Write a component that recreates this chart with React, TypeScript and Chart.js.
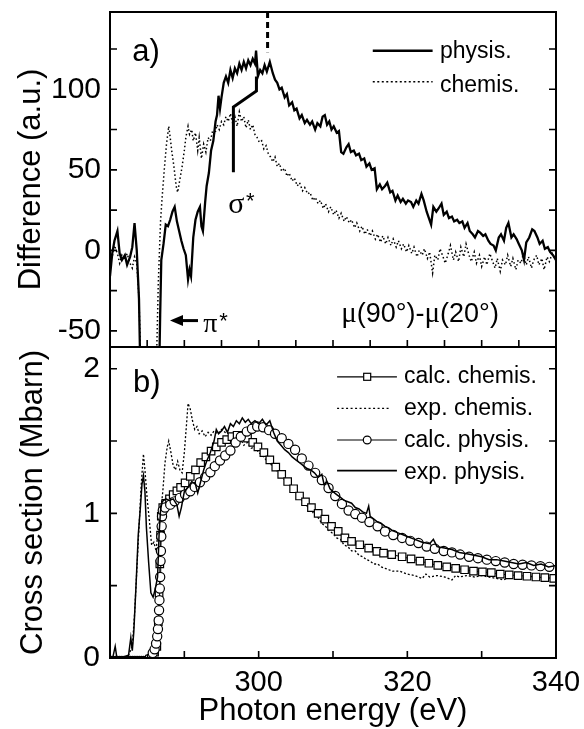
import React, { useEffect, useRef } from "react";
import { Chart, registerables } from "chart.js";

Chart.register(...registerables);

const SANS = "'Liberation Sans', Arial, Helvetica, sans-serif";
const SERIF = "'Liberation Serif', 'Times New Roman', serif";

// ---------- panel a) : difference spectra ----------
const aPhysE = [280.0,280.3,280.6,281.0,281.3,281.6,282.0,282.3,282.7,283.0,283.3,283.6,283.9,284.1,286.6,286.75,286.9,287.2,287.5,287.8,288.1,288.4,288.7,289.0,289.3,289.6,289.9,290.2,290.5,290.7,290.9,291.2,291.5,291.8,292.1,292.3,292.5,292.8,293.0,293.3,293.6,293.9,294.2,294.4,294.6,294.8,295.0,295.3,295.6,295.9,296.2,296.5,296.8,297.1,297.4,297.7,298.0,298.3,298.6,298.9,299.2,299.5,299.65,299.9,300.2,300.5,300.8,301.1,301.5,301.9,302.2,302.5,302.8,303.1,303.5,303.8,304.1,304.5,304.8,305.1,305.5,305.8,306.2,306.5,306.9,307.2,307.6,307.9,308.3,308.6,308.9,309.2,309.5,309.8,310.1,310.5,310.8,311.1,311.4,311.8,312.1,312.4,312.8,313.1,313.5,313.8,314.2,314.5,314.9,315.2,315.6,315.9,316.3,316.6,317.0,317.3,317.7,318.0,318.4,318.7,319.1,319.4,319.8,320.1,320.5,320.8,321.2,321.5,321.9,322.2,322.6,322.9,323.2,323.5,323.9,324.2,324.6,324.9,325.3,325.6,326.0,326.3,326.7,327.0,327.4,327.7,328.1,328.4,328.8,329.1,329.5,329.8,330.2,330.5,330.9,331.2,331.6,331.9,332.3,332.6,333.0,333.3,333.6,334.0,334.3,334.7,335.0,335.4,335.7,336.0,336.4,336.8,337.1,337.5,337.8,338.2,338.5,338.9,339.2,339.6,340.0];
const aPhysV = [-16,-2,6,12,-2,-6,-3,-9,-4,2,17,0,-30,-80,-80,-40,-6,4,16,15,19,24,27,18,12,6,1,-3,-18,-12,-16,8,19,24,27,15,12,30,40,48,62,68,80,84,96,88,95,104,108,104,112,107,113,110,116,112,117,113,118,115,119,116,124,108,112,110,115,111,117,110,106,104,100,101,95,97,90,92,87,88,82,84,79,81,78,80,75,79,77,83,84,78,80,75,77,73,74,61,60,64,66,61,62,59,60,56,57,52,54,50,51,38,41,38,40,42,36,37,31,34,30,32,29,31,30,27,31,29,35,31,24,20,16,27,24,26,29,22,24,20,21,18,19,17,18,14,17,12,10,8,12,11,9,10,6,4,3,0,8,10,6,14,17,8,10,7,4,0,-6,5,8,13,12,8,4,6,1,2,-1,-3,-6];

const aChemE = [280.0,280.3,280.6,281.0,281.3,281.6,282.0,282.3,282.7,283.0,283.3,283.6,283.9,284.2,286.2,286.5,286.8,287.0,287.3,287.6,287.9,288.1,288.3,288.6,288.9,289.1,289.4,289.7,290.0,290.2,290.5,290.7,291.0,291.2,291.5,291.8,292.0,292.3,292.6,292.9,293.2,293.5,293.8,294.1,294.4,294.7,295.0,295.3,295.6,295.9,296.2,296.5,296.8,297.1,297.4,297.7,298.0,298.3,298.6,298.9,299.2,299.5,299.8,300.1,300.4,300.7,301.0,301.3,301.6,301.9,302.2,302.5,302.8,303.1,303.5,303.8,304.1,304.5,304.8,305.2,305.5,305.9,306.2,306.6,306.9,307.3,307.6,308.0,308.3,308.7,309.0,309.4,309.7,310.1,310.4,310.8,311.1,311.5,311.8,312.2,312.5,312.9,313.2,313.6,313.9,314.3,314.6,315.0,315.3,315.7,316.0,316.4,316.7,317.1,317.4,317.8,318.1,318.5,318.8,319.2,319.5,319.9,320.2,320.6,320.9,321.3,321.6,322.0,322.3,322.7,323.0,323.4,323.7,324.1,324.4,324.8,325.1,325.5,325.8,326.2,326.5,326.9,327.2,327.6,327.9,328.3,328.6,329.0,329.3,329.7,330.0,330.4,330.7,331.1,331.4,331.8,332.1,332.5,332.8,333.2,333.5,333.9,334.2,334.6,334.9,335.3,335.6,336.0,336.3,336.7,337.0,337.4,337.7,338.1,338.4,338.8,339.1,339.5,339.8,340.0];
const aChemV = [0,-4,3,-2,-8,-3,-6,-2,-8,-11,-4,-8,-30,-80,-80,-20,18,32,50,66,77,70,62,52,40,36,44,52,62,70,77,72,75,68,73,62,70,57,66,61,70,68,74,72,78,75,80,78,83,80,85,79,83,77,86,80,83,76,81,75,78,72,70,67,68,63,65,60,58,55,58,52,54,49,51,46,48,43,45,40,42,37,39,35,36,31,33,29,31,26,29,24,27,22,25,20,23,18,21,17,19,14,17,12,15,10,13,9,12,7,10,5,9,4,8,3,7,2,6,1,4,-1,3,-2,2,-4,0,-3,1,-5,-1,-14,-3,-6,1,-4,-8,-2,3,-6,-1,-7,2,-4,4,-3,-7,-1,-8,-3,-10,-4,-9,-2,-6,-11,-5,-13,-6,-9,-3,-10,-5,-12,-6,-8,-2,-9,-4,-11,-6,-3,-9,-5,-12,-4,-7,-2,-5,-3];

// ---------- panel b) : cross sections ----------
const bExpPhysE = [280.0,280.4,280.7,280.9,281.5,282.0,282.5,282.8,283.0,283.2,283.5,283.8,284.1,284.3,284.5,284.7,284.9,285.2,285.5,285.8,286.1,286.4,286.6,286.8,287.0,287.5,288.0,288.5,289.0,289.3,289.6,290.0,290.5,291.0,291.5,291.8,292.2,292.6,293.0,293.5,294.0,294.3,294.6,295.0,295.4,295.8,296.2,296.6,297.0,297.4,297.8,298.2,298.6,299.0,299.5,300.0,300.5,301.0,301.5,302.0,302.5,303.0,303.5,304.0,304.5,305.0,305.5,306.0,306.5,307.0,307.5,308.0,308.5,308.8,309.2,309.6,310.0,310.5,311.0,311.5,312.0,312.5,313.0,313.5,314.0,314.5,314.8,315.0,315.5,316.0,316.5,317.0,317.5,318.0,318.5,319.0,319.5,320.0,321.0,322.0,323.0,323.5,324.0,325.0,326.0,327.0,328.0,329.0,330.0,331.0,332.0,333.0,334.0,335.0,336.0,337.0,338.0,339.0,340.0];
const bExpPhysV = [0,0.01,0.08,0.01,0.0,0.01,0.02,0.14,0.05,0.18,0.5,0.85,1.05,1.2,1.26,1.15,0.9,0.66,0.45,0.42,0.48,0.56,0.85,1.02,1.08,1.1,1.09,1.1,1.06,0.98,1.04,1.15,1.18,1.22,1.2,1.14,1.22,1.3,1.36,1.42,1.5,1.58,1.55,1.57,1.6,1.56,1.62,1.6,1.64,1.62,1.66,1.63,1.65,1.62,1.64,1.62,1.65,1.61,1.64,1.56,1.5,1.47,1.44,1.42,1.39,1.37,1.35,1.33,1.31,1.3,1.28,1.25,1.27,1.2,1.22,1.17,1.15,1.13,1.11,1.09,1.08,1.07,1.04,1.03,1.01,1.0,1.05,0.98,0.96,0.94,0.93,0.91,0.9,0.88,0.87,0.86,0.85,0.84,0.82,0.8,0.79,0.82,0.77,0.76,0.75,0.73,0.72,0.71,0.7,0.68,0.68,0.67,0.66,0.65,0.66,0.64,0.65,0.63,0.64];

const bExpChemE = [280.0,280.5,281.0,281.5,282.0,282.5,283.0,283.3,283.6,283.9,284.2,284.5,284.7,285.0,285.3,285.6,285.9,286.2,286.5,286.8,287.1,287.4,287.7,287.9,288.2,288.5,288.8,289.1,289.4,289.7,290.0,290.3,290.5,290.8,291.1,291.4,291.7,292.0,292.4,292.8,293.2,293.6,294.0,294.5,295.0,295.5,296.0,296.5,297.0,297.5,298.0,298.5,299.0,299.5,300.0,300.5,301.0,301.5,302.0,302.5,303.0,303.5,304.0,304.5,305.0,305.5,306.0,306.5,307.0,307.5,308.0,308.5,309.0,309.5,310.0,310.5,311.0,311.5,312.0,312.5,313.0,313.5,314.0,314.5,315.0,315.5,316.0,316.5,317.0,317.5,318.0,319.0,320.0,321.0,322.0,322.5,323.0,324.0,325.0,326.0,326.5,327.0,328.0,329.0,330.0,331.0,332.0,333.0,334.0,335.0,336.0,337.0,338.0,339.0,340.0];
const bExpChemV = [0,0.01,0,0.01,0.0,0.02,0.08,0.3,0.6,0.9,1.2,1.41,1.3,1.1,0.95,0.78,0.8,0.74,0.9,1.0,1.15,1.35,1.46,1.5,1.42,1.33,1.3,1.36,1.3,1.28,1.42,1.62,1.76,1.72,1.64,1.58,1.6,1.55,1.57,1.53,1.56,1.54,1.57,1.55,1.58,1.56,1.55,1.53,1.5,1.52,1.47,1.49,1.45,1.46,1.42,1.4,1.37,1.34,1.33,1.29,1.27,1.23,1.21,1.17,1.15,1.11,1.08,1.05,1.03,0.99,0.97,0.93,0.91,0.88,0.86,0.83,0.82,0.78,0.77,0.74,0.74,0.71,0.7,0.68,0.67,0.65,0.65,0.63,0.62,0.61,0.6,0.6,0.58,0.57,0.55,0.58,0.56,0.57,0.56,0.54,0.57,0.56,0.57,0.56,0.57,0.56,0.55,0.54,0.57,0.56,0.55,0.57,0.56,0.55,0.57];

const bCalcChemE = [280.0,280.25,280.5,280.75,281.0,281.25,281.5,281.75,282.0,282.25,282.5,282.75,283.0,283.25,283.5,283.75,284.0,284.25,284.5,284.75,285.0,285.25,285.5,285.75,286.0,286.3,286.5,286.6,286.7,286.8,286.9,287.1,287.5,288.0,288.5,289.0,289.5,290.1,290.8,291.5,292.2,292.9,293.6,294.3,295.0,295.7,296.4,297.1,297.8,298.5,299.2,299.9,300.7,301.5,302.3,303.1,303.9,304.7,305.5,306.3,307.1,308.0,308.9,309.8,310.7,311.6,312.5,313.6,314.8,315.9,316.8,317.9,319.3,320.5,321.7,322.9,324.1,325.3,326.5,327.7,328.9,330.1,331.3,332.5,333.7,334.9,336.1,337.3,338.5,339.7];
const bCalcChemV = [0,0,0,0,0,0,0,0,0,0,0,0,0,0,0,0,0,0,0,0,0.005,0.01,0.015,0.02,0.04,0.08,0.25,0.45,0.65,0.85,0.98,1.04,1.07,1.1,1.13,1.155,1.18,1.21,1.256,1.3,1.35,1.39,1.43,1.46,1.49,1.51,1.53,1.54,1.54,1.52,1.49,1.46,1.42,1.37,1.32,1.27,1.22,1.17,1.12,1.08,1.04,1.0,0.96,0.91,0.875,0.83,0.806,0.783,0.76,0.737,0.725,0.714,0.7,0.685,0.67,0.655,0.64,0.63,0.62,0.61,0.6,0.595,0.59,0.58,0.575,0.57,0.565,0.56,0.555,0.55];

const bCalcPhysE = [280.0,280.25,280.5,280.75,281.0,281.25,281.5,281.75,282.0,282.25,282.5,282.75,283.0,283.25,283.5,283.75,284.0,284.25,284.5,284.75,285.0,285.25,285.5,285.75,286.0,286.2,286.35,286.45,286.55,286.6,286.65,286.7,286.75,286.8,286.85,286.9,286.95,287.0,287.1,287.4,288.1,288.7,289.4,290.1,290.8,291.4,292.1,292.8,293.5,294.1,294.8,295.5,296.2,296.9,297.6,298.4,299.1,299.8,300.6,301.4,302.2,303.1,304.0,304.9,305.8,306.7,307.6,308.5,309.4,310.3,311.2,312.1,313.0,313.9,314.9,316.0,317.0,318.1,319.3,320.4,321.5,322.6,323.7,324.9,326.0,327.1,328.3,329.5,330.7,331.9,333.1,334.3,335.5,336.7,337.9,339.1];
const bCalcPhysV = [0,0,0,0,0,0,0,0,0,0,0,0,0,0,0,0,0,0,0,0,0.01,0.015,0.02,0.035,0.06,0.1,0.15,0.2,0.26,0.33,0.4,0.48,0.56,0.67,0.74,0.84,0.91,0.98,1.02,1.04,1.06,1.083,1.107,1.13,1.152,1.183,1.215,1.25,1.284,1.326,1.365,1.4,1.434,1.49,1.53,1.565,1.585,1.6,1.595,1.575,1.55,1.52,1.48,1.44,1.38,1.33,1.28,1.23,1.175,1.12,1.065,1.02,0.995,0.97,0.94,0.91,0.875,0.85,0.83,0.81,0.795,0.77,0.755,0.74,0.73,0.715,0.7,0.69,0.68,0.67,0.66,0.65,0.645,0.64,0.635,0.63];

// tick label lists
const aYLabelStep = 50;
const bXLabels = [300, 320, 340];
const bYLabels = [0, 1, 2];

const pts = (xs: number[], ys: number[]) => xs.map((x, i) => ({ x, y: ys[i] }));

function frameAndTicks(chart: any) {
  const { ctx, chartArea: a } = chart;
  const xs = chart.scales.x;
  const ys = chart.scales.y;
  const L = 7;
  ctx.save();
  ctx.strokeStyle = "#000";
  ctx.lineWidth = 1.6;
  ctx.setLineDash([]);
  ctx.beginPath();
  xs.ticks.forEach((t: any) => {
    if (t.value > xs.min && t.value < xs.max) {
      const p = xs.getPixelForValue(t.value);
      ctx.moveTo(p, a.bottom);
      ctx.lineTo(p, a.bottom - L);
    }
  });
  ys.ticks.forEach((t: any) => {
    if (t.value > ys.min && t.value < ys.max) {
      const p = ys.getPixelForValue(t.value);
      ctx.moveTo(a.left, p);
      ctx.lineTo(a.left + L, p);
      ctx.moveTo(a.right, p);
      ctx.lineTo(a.right - L, p);
    }
  });
  ctx.stroke();
  ctx.lineWidth = 2;
  ctx.strokeRect(a.left, a.top, a.right - a.left, a.bottom - a.top);
  ctx.restore();
}

function text(ctx: any, s: string, x: number, y: number, font: string) {
  ctx.font = font;
  ctx.fillStyle = "#000";
  ctx.textAlign = "left";
  ctx.textBaseline = "alphabetic";
  ctx.fillText(s, x, y);
  return ctx.measureText(s).width;
}

const decorTop = {
  id: "decorTop",
  afterDraw(chart: any) {
    frameAndTicks(chart);
    const { ctx } = chart;
    const xs = chart.scales.x;
    const ys = chart.scales.y;
    const X = (v: number) => xs.getPixelForValue(v);
    const Y = (v: number) => ys.getPixelForValue(v);
    ctx.save();
    text(ctx, "a)", X(283.0), Y(117.6), `31px ${SANS}`);
    ctx.strokeStyle = "#000";
    ctx.lineWidth = 2.5;
    ctx.beginPath();
    ctx.moveTo(X(315.35), Y(124));
    ctx.lineTo(X(323.4), Y(124));
    ctx.stroke();
    text(ctx, "physis.", X(324.4), Y(119.3), `23px ${SANS}`);
    ctx.lineWidth = 1.5;
    ctx.setLineDash([2, 2.5]);
    ctx.beginPath();
    ctx.moveTo(X(315.35), Y(104.7));
    ctx.lineTo(X(323.4), Y(104.7));
    ctx.stroke();
    ctx.setLineDash([]);
    text(ctx, "chemis.", X(324.4), Y(98.5), `23px ${SANS}`);
    let x = X(311.1);
    const yb = Y(-44.4);
    x += text(ctx, "\u03bc", x, yb, `29px ${SERIF}`);
    x += text(ctx, "(90\u00b0)-", x, yb, `27px ${SANS}`);
    x += text(ctx, "\u03bc", x, yb, `29px ${SERIF}`);
    text(ctx, "(20\u00b0)", x, yb, `27px ${SANS}`);
    const ay = Y(-43.6);
    ctx.lineWidth = 3;
    ctx.beginPath();
    ctx.moveTo(X(291.84), ay);
    ctx.lineTo(X(288.07) + 8, ay);
    ctx.stroke();
    ctx.beginPath();
    ctx.moveTo(X(288.07), ay);
    ctx.lineTo(X(288.07) + 13, ay - 5.5);
    ctx.lineTo(X(288.07) + 13, ay + 5.5);
    ctx.closePath();
    ctx.fill();
    text(ctx, "\u03c0", X(292.55), Y(-50.5), `28px ${SERIF}`);
    text(ctx, "*", X(294.7), Y(-48.5), `22px ${SANS}`);
    ctx.lineWidth = 3;
    ctx.beginPath();
    ctx.moveTo(X(296.6), Y(48.5));
    ctx.lineTo(X(296.6), Y(89));
    ctx.lineTo(X(299.7), Y(99));
    ctx.lineTo(X(299.7), Y(108));
    ctx.stroke();
    text(ctx, "\u03c3", X(295.9), Y(22.9), `30px ${SERIF}`);
    text(ctx, "*", X(298.3), Y(26.3), `22px ${SANS}`);
    ctx.setLineDash([6, 4]);
    ctx.beginPath();
    ctx.moveTo(X(301.2), Y(148));
    ctx.lineTo(X(301.2), Y(123));
    ctx.stroke();
    ctx.setLineDash([]);
    ctx.restore();
  },
};

const decorBottom = {
  id: "decorBottom",
  afterDraw(chart: any) {
    frameAndTicks(chart);
    const { ctx } = chart;
    const xs = chart.scales.x;
    const ys = chart.scales.y;
    const X = (v: number) => xs.getPixelForValue(v);
    const Y = (v: number) => ys.getPixelForValue(v);
    ctx.save();
    text(ctx, "b)", X(283.1), Y(1.841), `31px ${SANS}`);
    const x0 = X(310.55), x1 = X(318.6), xm = X(314.6), xt = X(319.56);
    const font = `23px ${SANS}`;
    ctx.strokeStyle = "#000";
    let y = Y(1.944);
    ctx.lineWidth = 1.2;
    ctx.beginPath(); ctx.moveTo(x0, y); ctx.lineTo(x1, y); ctx.stroke();
    ctx.fillStyle = "#fff";
    ctx.fillRect(xm - 3.5, y - 3.5, 7, 7);
    ctx.lineWidth = 1.2;
    ctx.strokeRect(xm - 3.5, y - 3.5, 7, 7);
    text(ctx, "calc. chemis.", xt, Y(1.899), font);
    y = Y(1.726);
    ctx.lineWidth = 1.3;
    ctx.setLineDash([2, 2.5]);
    ctx.beginPath(); ctx.moveTo(x0, y); ctx.lineTo(X(317.8), y); ctx.stroke();
    ctx.setLineDash([]);
    text(ctx, "exp. chemis.", xt, Y(1.68), font);
    y = Y(1.507);
    ctx.lineWidth = 1.2;
    ctx.beginPath(); ctx.moveTo(x0, y); ctx.lineTo(x1, y); ctx.stroke();
    ctx.fillStyle = "#fff";
    ctx.beginPath(); ctx.arc(xm, y, 3.9, 0, Math.PI * 2); ctx.fill();
    ctx.stroke();
    text(ctx, "calc. physis.", xt, Y(1.461), font);
    y = Y(1.295);
    ctx.lineWidth = 1.8;
    ctx.beginPath(); ctx.moveTo(x0, y); ctx.lineTo(x1, y); ctx.stroke();
    text(ctx, "exp. physis.", xt, Y(1.237), font);
    ctx.restore();
  },
};

function topConfig(): any {
  return {
    type: "line",
    data: {
      datasets: [
        { label: "physis.", data: pts(aPhysE, aPhysV), borderColor: "#000", borderWidth: 2.3, pointRadius: 0, tension: 0 },
        { label: "chemis.", data: pts(aChemE, aChemV), borderColor: "#000", borderWidth: 1.5, borderDash: [1.5, 2.5], pointRadius: 0, tension: 0 },
      ],
    },
    options: {
      animation: false,
      responsive: false,
      devicePixelRatio: 1,
      layout: { padding: { left: 0, top: 12, right: 28, bottom: 382 } },
      plugins: { legend: { display: false }, tooltip: { enabled: false } },
      scales: {
        x: {
          type: "linear", min: 280, max: 340,
          ticks: { stepSize: 5, display: false, maxTicksLimit: 20 },
          grid: { display: false, drawTicks: false },
          border: { display: false },
          afterFit: (s: any) => { s.height = 0; s.paddingLeft = 0; s.paddingRight = 0; },
        },
        y: {
          min: -60, max: 148,
          ticks: {
            stepSize: 25, includeBounds: false, maxTicksLimit: 20, padding: 9, color: "#000",
            font: { size: 30, family: SANS },
            callback: (v: number) => (v % aYLabelStep === 0 ? String(v) : ""),
          },
          grid: { display: false, drawTicks: false },
          border: { display: false },
          title: { display: true, text: "Difference (a.u.)", color: "#000", font: { size: 31, family: SANS, lineHeight: 1 }, padding: { top: 16, bottom: 0 } },
          afterFit: (s: any) => { s.width = 110; s.paddingTop = 0; s.paddingBottom = 0; },
        },
      },
    },
    plugins: [decorTop],
  };
}

function botConfig(): any {
  return {
    type: "line",
    data: {
      datasets: [
        { label: "exp. physis.", data: pts(bExpPhysE, bExpPhysV), borderColor: "#000", borderWidth: 1.5, pointRadius: 0, tension: 0 },
        { label: "calc. physis.", data: pts(bCalcPhysE, bCalcPhysV), borderColor: "#000", borderWidth: 1, pointStyle: "circle", pointRadius: (ctx: any) => (ctx.raw && ctx.raw.y < 0.03 ? 1.7 : 4.6), pointBorderWidth: 1.2, pointBackgroundColor: "#fff", pointBorderColor: "#000", tension: 0 },
        { label: "calc. chemis.", data: pts(bCalcChemE, bCalcChemV), borderColor: "#000", borderWidth: 1, pointStyle: "rect", pointRadius: (ctx: any) => (ctx.raw && ctx.raw.y < 0.03 ? 1.9 : 5.3), pointBorderWidth: 1.2, pointBackgroundColor: "#fff", pointBorderColor: "#000", tension: 0 },
        { label: "exp. chemis.", data: pts(bExpChemE, bExpChemV), borderColor: "#000", borderWidth: 1.3, borderDash: [2, 2], pointRadius: 0, tension: 0 },
      ],
    },
    options: {
      animation: false,
      responsive: false,
      devicePixelRatio: 1,
      layout: { padding: { left: 0, top: 347, right: 28, bottom: 0 } },
      plugins: { legend: { display: false }, tooltip: { enabled: false } },
      scales: {
        x: {
          type: "linear", min: 280, max: 340,
          ticks: {
            stepSize: 10, maxTicksLimit: 20, padding: 8, color: "#000", maxRotation: 0, autoSkip: false,
            font: { size: 29, family: SANS },
            callback: (v: number) => (bXLabels.includes(v) ? String(v) : ""),
          },
          grid: { display: false, drawTicks: false },
          border: { display: false },
          title: { display: true, text: "Photon energy (eV)", color: "#000", font: { size: 31, family: SANS, lineHeight: 1 }, padding: { top: 0, bottom: 2 } },
          afterFit: (s: any) => { s.height = 71; s.paddingLeft = 0; s.paddingRight = 0; },
        },
        y: {
          min: 0, max: 2.15,
          ticks: {
            stepSize: 0.5, includeBounds: false, maxTicksLimit: 20, padding: 10, color: "#000",
            font: { size: 30, family: SANS },
            callback: (v: number) => (bYLabels.includes(v) ? String(v) : ""),
          },
          grid: { display: false, drawTicks: false },
          border: { display: false },
          title: { display: true, text: "Cross section (Mbarn)", color: "#000", font: { size: 31, family: SANS, lineHeight: 1 }, padding: { top: 18, bottom: 0 } },
          afterFit: (s: any) => { s.width = 110; s.paddingTop = 0; s.paddingBottom = 0; },
        },
      },
    },
    plugins: [decorBottom],
  };
}

export default function App() {
  const topRef = useRef<HTMLCanvasElement>(null);
  const botRef = useRef<HTMLCanvasElement>(null);
  useEffect(() => {
    Chart.defaults.font.family = SANS;
    Chart.defaults.color = "#000";
    const c1 = new Chart(topRef.current as HTMLCanvasElement, topConfig());
    const c2 = new Chart(botRef.current as HTMLCanvasElement, botConfig());
    return () => {
      c1.destroy();
      c2.destroy();
    };
  }, []);
  const cs: React.CSSProperties = { position: "absolute", left: 0, top: 0, width: 584, height: 729 };
  return (
    <div style={{ position: "absolute", left: 0, top: 0, width: 584, height: 729, background: "#fff" }}>
      <canvas ref={topRef} width={584} height={729} style={cs} />
      <canvas ref={botRef} width={584} height={729} style={cs} />
    </div>
  );
}
